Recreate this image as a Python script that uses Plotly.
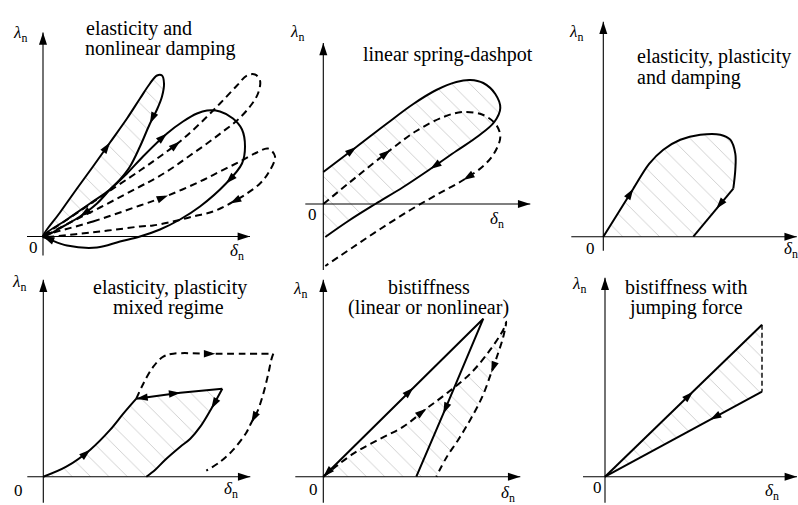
import math
import plotly.graph_objects as go

W, H = 798, 505

# ---------------- data: schematic force/penetration curves (delta_n, lambda_n) ----------------
# Panel 1: elasticity and nonlinear damping
p1_hyst_d = [0, 17, 34, 50, 67, 84, 97, 107, 114, 119, 121, 119, 114, 107, 97, 87, 77, 67, 54, 37, 20, 0]
p1_hyst_l = [0, 24, 48, 70, 94, 118, 138, 153, 161, 161, 153, 140, 127, 113, 90, 70, 57, 47, 33, 20, 10, 0]
p1_big_d = [0, 24, 47, 67, 84, 100, 124, 140, 154, 164, 177, 190, 199, 202, 199, 183, 157, 137, 117, 97, 77, 54, 24, 7, 0]
p1_big_l = [0, 17, 33, 47, 63, 80, 103, 115, 123, 126, 125, 118, 107, 90, 73, 53, 30, 17, 7, 0, -5, -11, -9, -3, 0]
p1_dashA_d = [0, 48, 97, 117, 137, 157, 177, 194, 204, 212, 217, 215, 207, 194, 180, 164, 147, 130, 114, 97, 57, 27, 0]
p1_dashA_l = [0, 33, 66, 80, 95, 113, 133, 151, 161, 162, 156, 143, 130, 116, 105, 93, 81, 69, 59, 50, 29, 14, 0]
p1_dashB_d = [0, 50, 97, 125, 157, 177, 197, 214, 225, 232, 225, 217, 204, 187, 170, 150, 130, 110, 97, 57, 0]
p1_dashB_l = [0, 15, 31, 41, 55, 65, 75, 84, 88, 80, 63, 53, 43, 33, 25, 20, 15, 11, 10, 5, 0]

# Panel 2: linear spring-dashpot
p2_solid_d = [0, 33, 63, 90, 113, 133, 147, 160, 172, 177, 171, 155, 133, 107, 80, 52, 25, 2]
p2_solid_l = [32, 57, 80, 100, 114, 122, 124, 121, 110, 96, 82, 68, 53, 35, 17, 0, -17, -33]
p2_dash_d = [0, 33, 67, 93, 120, 140, 160, 173, 177, 171, 160, 140, 113, 87, 57, 30, 2]
p2_dash_l = [0, 27, 54, 73, 87, 92, 89, 79, 67, 51, 38, 24, 9, -6, -25, -43, -62]

# Panel 3: elasticity, plasticity and damping
p3_load_d = [0, 15, 30, 46, 60, 77, 97, 117, 127, 132, 132, 130]
p3_load_l = [0, 24, 48, 73, 87, 97, 102, 102, 97, 83, 67, 48]
p3_unload_d = [130, 113, 90]
p3_unload_l = [48, 28, 0]

# Panel 4: elasticity, plasticity mixed regime
p4_load_d = [0, 23, 47, 67, 80, 93]
p4_load_l = [0, 10, 27, 47, 63, 78]
p4_top_d = [93, 137, 179]
p4_top_l = [78, 84, 88]
p4_unload_d = [179, 168, 157, 147, 137, 122, 112, 103]
p4_unload_l = [88, 68, 50, 38, 30, 17, 7, 0]
p4_plast_d = [93, 100, 110, 120, 130, 172, 230]
p4_plast_l = [78, 93, 110, 120, 123, 123, 123]
p4_plast_unload_d = [230, 228, 225, 220, 214, 208, 203, 190, 177, 163]
p4_plast_unload_l = [123, 117, 103, 83, 65, 54, 44, 27, 15, 6]

# Panel 5: bistiffness (linear or nonlinear)
p5_lin_d = [0, 90, 160, 120, 93]
p5_lin_l = [0, 89, 158, 63, 0]
p5_nl_d = [0, 30, 57, 80, 103, 123, 147, 167, 180, 183, 180, 175, 168, 159, 147, 135, 123, 113]
p5_nl_l = [0, 23, 38, 50, 68, 83, 103, 127, 147, 155, 140, 124, 104, 80, 57, 37, 19, 0]

# Panel 6: bistiffness with jumping force
p6_load_d = [0, 88, 157]
p6_load_l = [0, 85, 152]
p6_unload_d = [157, 105, 0]
p6_unload_l = [85, 57, 0]
p6_jump_d = [157, 157]
p6_jump_l = [152, 85]

# ---------------- panel geometry (pixel origin of each diagram, axis extents) ----------------
PANELS = [
    dict(ox=43.0, oy=236.5, xr=(-16, 207), yr=(-19, 204)),
    dict(ox=323.3, oy=204.0, xr=(-18, 207), yr=(-66, 161)),
    dict(ox=603.3, oy=236.7, xr=(-32, 193.5), yr=(-14, 215)),
    dict(ox=43.3, oy=476.7, xr=(-16, 207), yr=(-26, 197)),
    dict(ox=323.3, oy=476.7, xr=(-28, 197), yr=(-26, 197)),
    dict(ox=605.0, oy=476.7, xr=(-22, 192), yr=(-26, 199)),
]

fig = go.Figure()
layout_axes = {}
for k, p in enumerate(PANELS, start=1):
    xn = 'xaxis' if k == 1 else f'xaxis{k}'
    yn = 'yaxis' if k == 1 else f'yaxis{k}'
    xa = dict(range=[-p['ox'], W - p['ox']], domain=[0, 1], visible=False, fixedrange=True)
    ya = dict(range=[p['oy'] - H, p['oy']], domain=[0, 1], visible=False, fixedrange=True)
    if k > 1:
        xa.update(overlaying='x', anchor=f'y{k}')
        ya.update(overlaying='y', anchor=f'x{k}')
    layout_axes[xn] = xa
    layout_axes[yn] = ya


def ids(k):
    return ('x' if k == 1 else f'x{k}', 'y' if k == 1 else f'y{k}')


def hatch(k, d, l, shape='linear'):
    xa, ya = ids(k)
    fig.add_trace(go.Scatter(
        x=d, y=l, xaxis=xa, yaxis=ya, mode='lines', fill='toself',
        fillcolor='rgba(0,0,0,0)',
        fillpattern=dict(shape='\\', size=13, solidity=0.07, fgcolor='#999999',
                         bgcolor='rgba(0,0,0,0)'),
        line=dict(width=0, shape=shape), hoverinfo='skip', showlegend=False))


def curve(k, d, l, dash='solid', width=2.0, shape='spline'):
    xa, ya = ids(k)
    fig.add_trace(go.Scatter(
        x=d, y=l, xaxis=xa, yaxis=ya, mode='lines',
        line=dict(color='black', width=width, dash=dash, shape=shape, smoothing=1.0),
        hoverinfo='skip', showlegend=False))


def arrows(k, d, l, spec, size=12):
    xa, ya = ids(k)
    xs, ys, ang = [], [], []
    for i, rev in spec:
        i0, i1 = max(i - 1, 0), min(i + 1, len(d) - 1)
        dx, dy = d[i1] - d[i0], l[i1] - l[i0]
        if rev:
            dx, dy = -dx, -dy
        xs.append(d[i]); ys.append(l[i])
        ang.append(math.degrees(math.atan2(dx, dy)))
    fig.add_trace(go.Scatter(
        x=xs, y=ys, xaxis=xa, yaxis=ya, mode='markers',
        marker=dict(symbol='arrow', size=size, angle=ang, color='black', line=dict(width=0)),
        hoverinfo='skip', showlegend=False))


# hatching
hatch(1, p1_hyst_d, p1_hyst_l, shape='spline')
hatch(2, p2_solid_d + [0], p2_solid_l + [-33])
hatch(3, p3_load_d + p3_unload_d[1:], p3_load_l + p3_unload_l[1:])
hatch(4, p4_load_d + p4_top_d[1:] + p4_unload_d[1:], p4_load_l + p4_top_l[1:] + p4_unload_l[1:])
hatch(5, p5_nl_d, p5_nl_l)
hatch(6, p6_load_d + p6_jump_d[1:] + p6_unload_d[1:], p6_load_l + p6_jump_l[1:] + p6_unload_l[1:])

# coordinate axes with arrow tips
for k, p in enumerate(PANELS, start=1):
    x0, x1 = p['xr']
    y0, y1 = p['yr']
    curve(k, [x0, x1], [0, 0], width=1.1, shape='linear')
    curve(k, [0, 0], [y0, y1], width=1.1, shape='linear')
    xa, ya = ids(k)
    fig.add_trace(go.Scatter(
        x=[x1, 0], y=[0, y1], xaxis=xa, yaxis=ya, mode='markers',
        marker=dict(symbol='arrow', size=13, angle=[90, 0], color='black', line=dict(width=0)),
        hoverinfo='skip', showlegend=False))

DASH = '7px,4.5px'
# panel 1
curve(1, p1_dashA_d, p1_dashA_l, dash=DASH)
curve(1, p1_dashB_d, p1_dashB_l, dash=DASH)
curve(1, p1_big_d, p1_big_l)
curve(1, p1_hyst_d, p1_hyst_l)
arrows(1, p1_hyst_d, p1_hyst_l, [(4, False), (13, False), (19, False)])
arrows(1, p1_big_d, p1_big_l, [(6, False), (15, False), (24, False)])
arrows(1, p1_dashA_d, p1_dashA_l, [(4, False)])
arrows(1, p1_dashB_d, p1_dashB_l, [(3, False), (13, False)])
# panel 2
curve(2, p2_dash_d, p2_dash_l, dash=DASH)
curve(2, p2_solid_d, p2_solid_l)
arrows(2, p2_solid_d, p2_solid_l, [(1, False), (13, False)])
arrows(2, p2_dash_d, p2_dash_l, [(2, False), (11, False)])
# panel 3
curve(3, p3_load_d, p3_load_l)
curve(3, p3_unload_d, p3_unload_l, shape='linear')
arrows(3, p3_load_d, p3_load_l, [(2, False)])
arrows(3, p3_unload_d, p3_unload_l, [(1, False)])
# panel 4
curve(4, p4_plast_d, p4_plast_l, dash=DASH)
curve(4, p4_plast_unload_d, p4_plast_unload_l, dash=DASH)
curve(4, p4_load_d, p4_load_l)
curve(4, p4_top_d, p4_top_l, shape='linear')
curve(4, p4_unload_d, p4_unload_l)
arrows(4, p4_load_d, p4_load_l, [(2, False)])
arrows(4, p4_top_d, p4_top_l, [(1, False), (0, True)])
arrows(4, p4_unload_d, p4_unload_l, [(1, False)])
arrows(4, p4_plast_d, p4_plast_l, [(5, False)])
arrows(4, p4_plast_unload_d, p4_plast_unload_l, [(5, False)])
# panel 5
curve(5, p5_nl_d, p5_nl_l, dash=DASH)
curve(5, p5_lin_d, p5_lin_l, shape='linear')
arrows(5, p5_lin_d, p5_lin_l, [(1, False), (3, False), (0, True)])
arrows(5, p5_nl_d, p5_nl_l, [(4, False), (12, False)])
# panel 6
curve(6, p6_jump_d, p6_jump_l, dash='5px,3px', width=1.4, shape='linear')
curve(6, p6_load_d, p6_load_l, shape='linear')
curve(6, p6_unload_d, p6_unload_l, shape='linear')
arrows(6, p6_load_d, p6_load_l, [(1, False)])
arrows(6, p6_unload_d, p6_unload_l, [(1, False)])

# ---------------- text ----------------
FONT = 'Liberation Serif, serif'
TITLE_LINES = [
    ('elasticity and', 84, 28.5, 'left'),
    ('nonlinear damping', 83, 48.5, 'left'),
    ('linear spring-dashpot', 448, 55, 'center'),
    ('elasticity, plasticity', 635, 57, 'left'),
    ('and damping', 635, 77, 'left'),
    ('elasticity, plasticity', 170, 287, 'center'),
    ('mixed regime', 168, 307, 'center'),
    ('bistiffness', 429, 287, 'center'),
    ('(linear or nonlinear)', 428, 307, 'center'),
    ('bistiffness with', 686, 287, 'center'),
    ('jumping force', 686, 307, 'center'),
]
LAMBDA_POS = [(20, 34), (297, 33), (576, 33), (19, 283), (300, 290), (579, 285)]
ZERO_POS = [(33, 247), (312, 215), (590, 248), (18, 490), (313, 489), (597, 487)]
DELTA_POS = [(237, 252), (497, 220), (791, 250), (231, 490), (508, 494), (772, 492)]

ann = []
for text, x, y, al in TITLE_LINES:
    ann.append(dict(text=text, x=x / W, y=1 - y / H, xref='paper', yref='paper',
                    xanchor=al, yanchor='middle', align=al, showarrow=False,
                    font=dict(family=FONT, size=20, color='black')))
for (lx, ly), (zx, zy), (dx, dy) in zip(LAMBDA_POS, ZERO_POS, DELTA_POS):
    for txt, x, y in (('<i>λ</i><sub>n</sub>', lx, ly), ('0', zx, zy), ('<i>δ</i><sub>n</sub>', dx, dy)):
        ann.append(dict(text=txt, x=x / W, y=1 - y / H, xref='paper', yref='paper',
                        xanchor='center', yanchor='middle', showarrow=False,
                        font=dict(family=FONT, size=17, color='black')))

fig.update_layout(
    width=W, height=H, autosize=False,
    margin=dict(l=0, r=0, t=0, b=0),
    paper_bgcolor='white', plot_bgcolor='rgba(0,0,0,0)',
    showlegend=False, annotations=ann, **layout_axes)

fig.write_html('out.html', config={'displayModeBar': False, 'staticPlot': True},
               post_script="document.body.style.margin='0px';document.body.style.overflow='hidden';")
